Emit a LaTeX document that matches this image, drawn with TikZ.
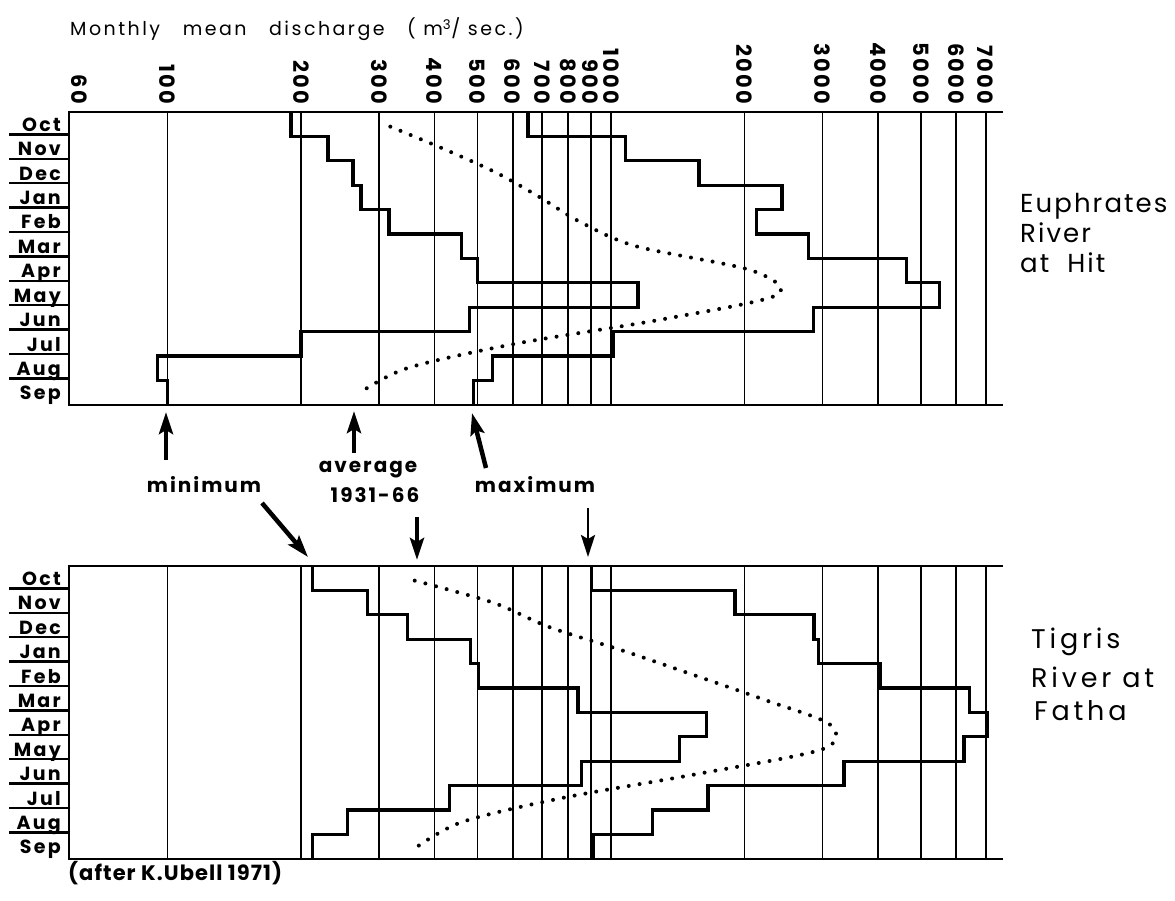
\documentclass[tikz,border=0pt]{standalone}
\usepackage{fontspec}
\setmainfont{Poppins}
\usetikzlibrary{arrows.meta}

% x position of a discharge value (log scale)
\newcommand{\lx}[1]{167.5+443.5*(log10(#1)-2)}

\begin{document}
\begin{tikzpicture}[x=1pt,y=-1pt,
  frame/.style={line width=2.4pt},
  gridline/.style={line width=1.8pt},
  curve/.style={line width=3.3pt,line join=miter},
  mean/.style={line width=4pt,line cap=round,dash pattern=on 0pt off 11pt},
  pointer/.style={line width=4.5pt,-{Stealth[length=22pt,width=14pt,inset=4pt]}},
  month/.style={anchor=base east,inner sep=0pt,font=\fontsize{19}{21}\selectfont\bfseries\addfontfeatures{LetterSpace=12}},
  tick/.style={rotate=-90,anchor=east,inner sep=0pt,font=\fontsize{21}{23}\selectfont\bfseries\addfontfeatures{LetterSpace=10}},
  word/.style={anchor=base,inner sep=0pt,font=\fontsize{20}{22}\selectfont\bfseries\addfontfeatures{LetterSpace=10}},
  river/.style={anchor=base west,inner sep=0pt,font=\fontsize{26}{30}\selectfont\addfontfeatures{LetterSpace=8}}]
  \useasboundingbox (0,0) rectangle (1175,901);
  \def\rh{24.4}
  % Draw title
  \node[anchor=base west,inner sep=0pt,font=\fontsize{19}{22}\selectfont\addfontfeatures{LetterSpace=13}]
    (title) at (70,36) {Monthly~~~mean~~~discharge~~~( m\textsuperscript{3}/ sec.)};
  % Draw scale labels
  \node[tick] (tick60) at (79,104) {60};
  \foreach \v in {100,200,300,400,500,600,700,800,900,1000,2000,3000,4000,5000,6000,7000}
    \node[tick] (tick\v) at ({\lx{\v}},104) {\v};
  % Draw panels
  \foreach \p in {112,566} {
    \draw[frame] (1003,\p) -- (69,\p) -- (69,{\p+12*\rh}) -- (1003,{\p+12*\rh});
    \foreach \v in {100,200,300,400,500,600,700,800,900,1000,2000,3000,4000,5000,6000,7000}
      \draw[gridline] ({\lx{\v}},\p) -- ({\lx{\v}},{\p+12*\rh});
    \foreach \mo [count=\i] in {Oct,Nov,Dec,Jan,Feb,Mar,Apr,May,Jun,Jul,Aug,Sep}
      \node[month] (m\p-\i) at (61,{\p+\i*\rh-5}) {\mo};
    \foreach \i in {1,...,11}
      \draw[frame] (9,{\p+\i*\rh-2}) -- (69,{\p+\i*\rh-2});
  }
  % Euphrates at Hit
  \begin{scope}[shift={(0,112)},y=-24.4pt]
    \draw[curve] ({\lx{190}},0) foreach \v [count=\m] in {190,230,262,273,316,460,500,1150,480,200,95,100}
      { -- ({\lx{\v}},\m-1) -- ({\lx{\v}},\m) };
    \draw[curve] ({\lx{650}},0) foreach \v [count=\m] in {650,1080,1580,2430,2130,2790,4640,5500,2860,1010,540,490}
      { -- ({\lx{\v}},\m-1) -- ({\lx{\v}},\m) };
    \draw[mean] plot[smooth] coordinates {({\lx{318}},0.6) ({\lx{418}},1.5) ({\lx{553}},2.5)
      ({\lx{692}},3.5) ({\lx{851}},4.5) ({\lx{1138}},5.5) ({\lx{2080}},6.5) ({\lx{2367}},7.5)
      ({\lx{1303}},8.5) ({\lx{608}},9.5) ({\lx{347}},10.5) ({\lx{269}},11.55)};
  \end{scope}
  % Tigris at Fatha
  \begin{scope}[shift={(0,566)},y=-24.4pt]
    \draw[curve] ({\lx{212}},0) foreach \v [count=\m] in {212,282,348,483,502,843,1640,1427,859,433,255,212}
      { -- ({\lx{\v}},\m-1) -- ({\lx{\v}},\m) };
    \draw[curve] ({\lx{904}},0) foreach \v [count=\m] in {904,1904,2869,2940,4050,6435,7070,6250,3353,1655,1242,912}
      { -- ({\lx{\v}},\m-1) -- ({\lx{\v}},\m) };
    \draw[mean] plot[smooth] coordinates {({\lx{361}},0.6) ({\lx{542}},1.5) ({\lx{725}},2.5)
      ({\lx{1076}},3.5) ({\lx{1555}},4.5) ({\lx{2232}},5.5) ({\lx{3118}},6.5) ({\lx{3006}},7.5)
      ({\lx{1592}},8.5) ({\lx{780}},9.5) ({\lx{460}},10.5) ({\lx{356}},11.65)};
  \end{scope}
  % River names
  \node[river] (euph1) at (1020,213) {Euphrates};
  \node[river] (euph2) at (1020,243) {River};
  \node[river] (euph3) at (1020,273) {at~~Hit};
  \node[river,font=\fontsize{27}{30}\selectfont\addfontfeatures{LetterSpace=14}] (tigr1) at (1031,648) {Tigris};
  \node[river,font=\fontsize{27}{30}\selectfont\addfontfeatures{LetterSpace=14}] (tigr2) at (1031,687) {River at};
  \node[river,font=\fontsize{27}{30}\selectfont\addfontfeatures{LetterSpace=14}] (tigr3) at (1034,720) {Fatha};
  % Pointers
  \node[word] (minimum) at (204,492) {minimum};
  \node[word] (average) at (368,472) {average};
  \node[word] (period) at (375,502) {1931-66};
  \node[word] (maximum) at (535,492) {maximum};
  \coordinate (min-a) at (166,460);  \coordinate (min-b) at (166,412);
  \coordinate (avg-a) at (354,453);  \coordinate (avg-b) at (354,411);
  \coordinate (max-a) at (486,468);  \coordinate (max-b) at (472,413);
  \coordinate (min-c) at (262,503);  \coordinate (min-d) at (308,557);
  \coordinate (avg-c) at (417,517);  \coordinate (avg-d) at (417,560);
  \coordinate (max-c) at (588,508);  \coordinate (max-d) at (588,557);
  \draw[pointer] (min-a) -- (min-b);
  \draw[pointer] (avg-a) -- (avg-b);
  \draw[pointer] (max-a) -- (max-b);
  \draw[pointer] (min-c) -- (min-d);
  \draw[pointer] (avg-c) -- (avg-d);
  \draw[pointer,line width=2.5pt] (max-c) -- (max-d);
  % Source
  \node[anchor=base west,inner sep=0pt,font=\fontsize{21}{23}\selectfont\bfseries\addfontfeatures{LetterSpace=5}] (source) at (68,880) {(after K.Ubell 1971)};
\end{tikzpicture}
\end{document}
